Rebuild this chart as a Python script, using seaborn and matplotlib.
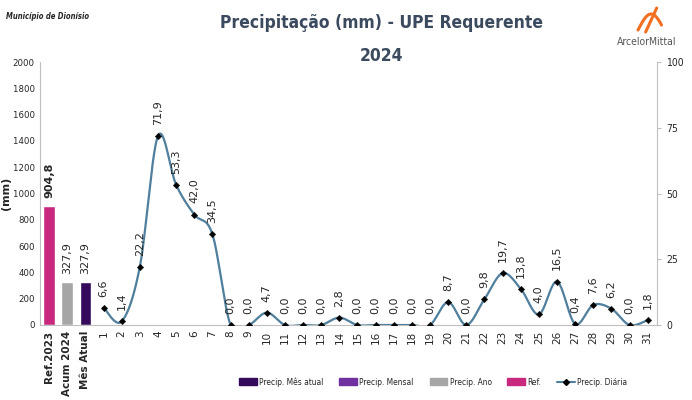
import numpy as np
import pandas as pd
import seaborn as sns
import matplotlib.pyplot as plt
from matplotlib.patches import Patch
from matplotlib.lines import Line2D

# summary bars
bar_names = ["Ref.2023", "Acum 2024", "Mês Atual"]
bar_values = [904.8, 327.9, 327.9]
bar_colors = ["#C8287D", "#A6A6A6", "#340B5C"]

# daily rainfall (mm)
days = [str(d) for d in range(1, 32)]
daily = [6.6, 1.4, 22.2, 71.9, 53.3, 42.0, 34.5, 0.0, 0.0, 4.7, 0.0, 0.0, 0.0, 2.8,
         0.0, 0.0, 0.0, 0.0, 0.0, 8.7, 0.0, 9.8, 19.7, 13.8, 4.0, 16.5, 0.4, 7.6,
         6.2, 0.0, 1.8]

categories = bar_names + days
line_color = "#4F7F9C"
title_color = "#3B4A5E"

sns.set_style("white")
plt.rcParams["font.family"] = ["DejaVu Sans"]

fig = plt.figure(figsize=(6.92, 4.0), dpi=100)
ax = fig.add_axes([0.058, 0.1875, 0.891, 0.6575])

bars_df = pd.DataFrame({"cat": bar_names, "val": bar_values})
sns.barplot(data=bars_df, x="cat", y="val", hue="cat", order=categories,
            palette=dict(zip(bar_names, bar_colors)), width=0.65, saturation=1,
            legend=False, ax=ax)
ax.set_ylim(0, 2000)
ax.set_xlim(-0.5, len(categories) - 0.5)
ax.set_yticks(range(0, 2001, 200))
ax.set_xlabel("")
ax.set_ylabel("(mm)", fontsize=8, fontweight="bold", labelpad=1)
ax.tick_params(axis="y", length=0, labelsize=6.8, pad=4)
for t in ax.get_yticklabels():
    t.set_fontstretch("condensed")
ax.set_xticks(range(len(categories)))
ax.set_xticklabels(categories, rotation=90, fontsize=7.5)
for t in ax.get_xticklabels()[:3]:
    t.set_fontweight("bold")
ax.tick_params(axis="x", length=0, pad=4)

for i, v in enumerate(bar_values):
    ax.annotate(f"{v:.1f}".replace(".", ","), (i, v), xytext=(0, 6),
                textcoords="offset points", rotation=90, ha="center", va="bottom",
                fontsize=8, fontweight="bold" if i == 0 else "normal")

# daily line on secondary axis, Excel-like smoothing
ax2 = ax.twinx()
xs = np.arange(3, 3 + len(daily), dtype=float)
ys = np.array(daily)
pts = np.column_stack([xs, ys])
ext = np.vstack([pts[0], pts, pts[-1]])
curve = []
tt = np.linspace(0, 1, 25)
for i in range(1, len(ext) - 2):
    p0, p1, p2, p3 = ext[i - 1], ext[i], ext[i + 1], ext[i + 2]
    c1 = p1 + (p2 - p0) / 6
    c2 = p2 - (p3 - p1) / 6
    seg = ((1 - tt) ** 3)[:, None] * p1 + (3 * (1 - tt) ** 2 * tt)[:, None] * c1 \
        + (3 * (1 - tt) * tt ** 2)[:, None] * c2 + (tt ** 3)[:, None] * p2
    curve.append(seg if i == 1 else seg[1:])
curve = np.vstack(curve)
ax2.plot(curve[:, 0], curve[:, 1], color=line_color, lw=1.6)
sns.scatterplot(x=xs, y=ys, marker="D", color="black", s=11, edgecolor="black",
                zorder=5, ax=ax2)
ax2.set_ylim(0, 100)
ax2.set_yticks([0, 25, 50, 75, 100])
ax2.tick_params(axis="y", length=3, color="#BFBFBF", labelsize=7.5, pad=4)
for t in ax2.get_yticklabels():
    t.set_fontstretch("condensed")

for x, v in zip(xs, ys):
    ax2.annotate(f"{v:.1f}".replace(".", ","), (x, v), xytext=(0, 8),
                 textcoords="offset points", rotation=90, ha="center", va="bottom",
                 fontsize=8)

for a in (ax, ax2):
    a.spines["top"].set_visible(False)
    for s in ("left", "right", "bottom"):
        a.spines[s].set_color("#BFBFBF")
        a.spines[s].set_linewidth(0.8)
ax.spines["right"].set_visible(False)
ax2.spines["left"].set_visible(False)
ax2.spines["bottom"].set_visible(False)

# titles and header
fig.text(0.551, 0.943, "Precipitação (mm) - UPE Requerente", ha="center", va="center",
         fontsize=12.5, fontweight="bold", fontstretch="condensed", color=title_color)
fig.text(0.551, 0.86, "2024", ha="center", va="center",
         fontsize=12.5, fontweight="bold", fontstretch="condensed", color=title_color)
fig.text(0.008, 0.958, "Município de Dionísio", ha="left", va="center",
         fontsize=5.5, fontweight="bold", style="italic", fontstretch="condensed")
fig.text(0.935, 0.895, "ArcelorMittal", ha="center", va="center",
         fontsize=7.5, color="#555555", fontstretch="condensed")
# small orange logo mark
lx = np.linspace(0, 1, 30)
fig.add_artist(Line2D(0.922 + 0.034 * lx, 0.925 + 0.04 * np.sin(lx * np.pi * 0.9),
                      color="#F26F21", lw=2.2, transform=fig.transFigure,
                      solid_capstyle="round"))
fig.add_artist(Line2D(0.933 + 0.016 * lx, 0.92 + 0.06 * lx,
                      color="#F26F21", lw=2.2, transform=fig.transFigure,
                      solid_capstyle="round"))

handles = [Patch(color="#340B5C"), Patch(color="#7030A0"), Patch(color="#A6A6A6"),
           Patch(color="#C8287D"),
           Line2D([], [], color=line_color, marker="D", markersize=3,
                  markerfacecolor="black", markeredgecolor="black")]
labels = ["Precip. Mês atual", "Precip. Mensal", "Precip. Ano", "Ref.", "Precip. Diária"]
fig.legend(handles, labels, loc="center", bbox_to_anchor=(0.626, 0.045), ncol=5,
           frameon=False, prop={"size": 6, "stretch": "condensed"},
           handlelength=2.1, handleheight=0.9, columnspacing=1.9, handletextpad=0.3)

fig.savefig("out.png", dpi=100)
